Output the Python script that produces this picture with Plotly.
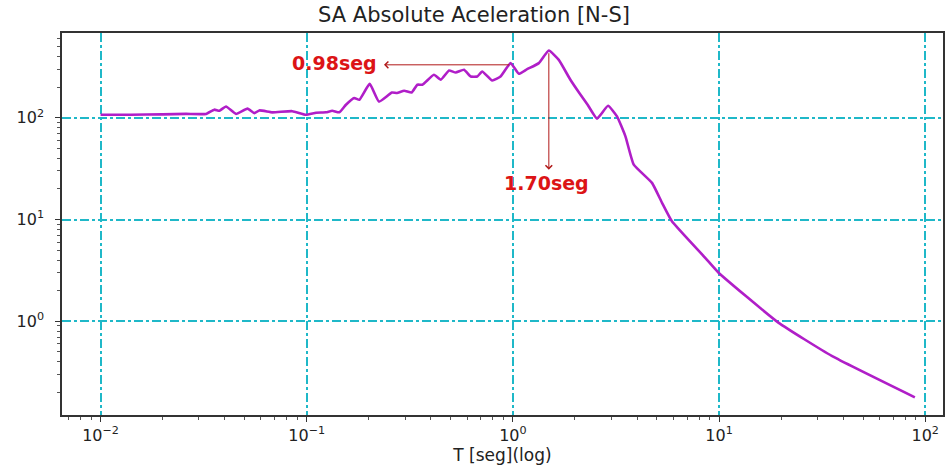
import plotly.graph_objects as go
import numpy as np

# Spectrum data
period_s = [0.0100, 0.0140, 0.0200, 0.0260, 0.0325, 0.0356, 0.0377, 0.0406, 0.0454, 0.0516,
            0.0557, 0.0589, 0.0681, 0.0851, 0.0991, 0.111, 0.124, 0.133, 0.144, 0.155,
            0.170, 0.180, 0.202, 0.224, 0.259, 0.274, 0.297, 0.323, 0.344, 0.364,
            0.414, 0.447, 0.490, 0.528, 0.579, 0.624, 0.672, 0.710, 0.794, 0.871,
            0.975, 1.069, 1.173, 1.336, 1.494, 1.670, 1.901, 2.100, 2.300, 2.559,
            2.895, 3.199, 3.515, 3.857, 4.73, 5.29, 5.91, 8.57, 9.95, 19.4,
            35.2, 89.1]
sa_abs = [107, 107, 108, 109, 109, 120, 117, 129, 109, 123,
          111, 118, 113, 116, 107, 112, 113, 117, 113, 134,
          156, 150, 215, 144, 177, 175, 184, 177, 211, 211,
          264, 236, 291, 278, 296, 254, 254, 285, 232, 254,
          344, 270, 300, 344, 457, 370, 236, 175, 135, 98,
          131, 103, 65.6, 34.6, 22.9, 14.6, 9.6, 4.2, 3.0, 0.97,
          0.457, 0.179]

x_ticks = [0.01, 0.1, 1, 10, 100]
x_tick_text = ["10<sup>\u22122</sup>", "10<sup>\u22121</sup>", "10<sup>0</sup>", "10<sup>1</sup>", "10<sup>2</sup>"]
y_ticks = [1, 10, 100]
y_tick_text = ["10<sup>0</sup>", "10<sup>1</sup>", "10<sup>2</sup>"]

# Annotated periods
label_1 = "0.98seg"
label_2 = "1.70seg"


def minor_vals(lo_exp, hi_exp):
    return [m * 10.0 ** e for e in range(lo_exp, hi_exp) for m in range(2, 10)]


fig = go.Figure()
fig.add_trace(go.Scatter(x=period_s, y=sa_abs, mode="lines",
                         line=dict(color="#b01ec8", width=2.6, shape="spline", smoothing=0.4),
                         showlegend=False, hoverinfo="skip"))

grid_color = "#1fb8c8"
axis_common = dict(
    type="log", showgrid=True, gridcolor=grid_color, griddash="dashdot", gridwidth=1.5,
    showline=True, linecolor="#333333", linewidth=1.5, mirror=True,
    ticks="outside", ticklen=5, tickcolor="#333333", zeroline=False,
    tickfont=dict(family="DejaVu Sans", size=16, color="#222222"),
)

fig.update_xaxes(**axis_common, range=[np.log10(0.0065), np.log10(122)],
                 tickmode="array", tickvals=x_ticks, ticktext=x_tick_text,
                 minor=dict(tickmode="array", tickvals=minor_vals(-3, 3), ticks="outside", ticklen=3,
                            tickcolor="#555555", showgrid=False),
                 title=dict(text="T [seg](log)", font=dict(family="DejaVu Sans", size=17, color="#222222"),
                            standoff=4))
fig.update_yaxes(**axis_common, range=[np.log10(0.12), np.log10(680)],
                 tickmode="array", tickvals=y_ticks, ticktext=y_tick_text, ticklabelstandoff=8,
                 minor=dict(tickmode="array", tickvals=minor_vals(-1, 3), ticks="outside", ticklen=3,
                            tickcolor="#555555", showgrid=False))

red = "#dc1416"
arrow_red = "#b01818"
# horizontal arrow (0.98 s)
fig.add_annotation(x=np.log10(0.237), y=np.log10(331), ax=np.log10(0.975), ay=np.log10(331),
                   xref="x", yref="y", axref="x", ayref="y", text="", showarrow=True,
                   arrowhead=4, arrowsize=1.3, arrowwidth=1, arrowcolor=arrow_red)
fig.add_annotation(x=np.log10(0.137), y=np.log10(345), xref="x", yref="y", text="<b>%s</b>" % label_1,
                   showarrow=False, font=dict(family="DejaVu Sans", size=19, color=red))
# vertical arrow (1.70 s)
fig.add_annotation(x=np.log10(1.494), y=np.log10(30.9), ax=np.log10(1.494), ay=np.log10(445),
                   xref="x", yref="y", axref="x", ayref="y", text="", showarrow=True,
                   arrowhead=4, arrowsize=1.3, arrowwidth=1, arrowcolor=arrow_red)
fig.add_annotation(x=np.log10(1.46), y=np.log10(23.0), xref="x", yref="y", text="<b>%s</b>" % label_2,
                   showarrow=False, font=dict(family="DejaVu Sans", size=19, color=red))

fig.update_layout(
    width=948, height=468,
    margin=dict(l=62, r=3, t=33, b=53),
    paper_bgcolor="white", plot_bgcolor="white",
    title=dict(text="SA Absolute Aceleration [N-S]", x=0.5, xref="container", xanchor="center",
               y=0.985, yanchor="top",
               font=dict(family="DejaVu Sans", size=21, color="#222222")),
)

fig.write_html("out.html")
